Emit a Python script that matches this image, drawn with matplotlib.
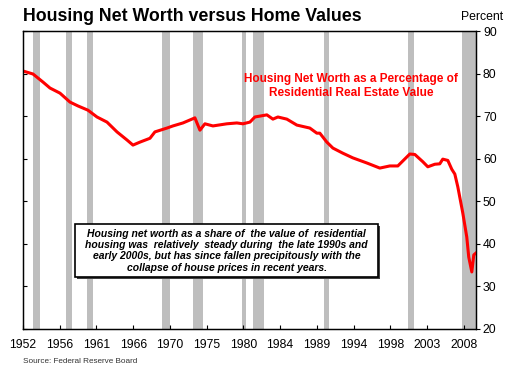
import matplotlib
matplotlib.use("Agg")
import matplotlib.pyplot as plt
from matplotlib.patches import Rectangle

plt.rcParams['font.family'] = ['Liberation Sans', 'DejaVu Sans']

# housing net worth as % of residential real estate value
years = [1952.00, 1953.27, 1954.54, 1955.43, 1956.70, 1957.97, 1958.98, 1960.25,
         1961.40, 1962.67, 1963.94, 1965.21, 1965.97, 1966.86, 1968.13, 1968.76,
         1970.29, 1971.05, 1972.32, 1973.46, 1973.84, 1974.48, 1975.11, 1976.13,
         1977.90, 1979.17, 1979.94, 1980.83, 1981.46, 1982.98, 1983.75, 1984.38,
         1985.52, 1986.79, 1988.44, 1989.33, 1989.71, 1990.60, 1991.37, 1992.63,
         1993.90, 1995.68, 1997.33, 1998.60, 1999.62, 2001.14, 2001.78, 2002.79,
         2003.43, 2004.32, 2004.95, 2005.33, 2005.97, 2006.48, 2006.86, 2007.24,
         2007.87, 2008.38, 2008.63, 2009.02, 2009.27, 2009.52]
net_worth = [80.6, 79.9, 78.0, 76.6, 75.4, 73.3, 72.4, 71.4,
             69.8, 68.6, 66.3, 64.4, 63.2, 63.9, 64.8, 66.3,
             67.2, 67.7, 68.4, 69.3, 69.6, 66.7, 68.2, 67.7,
             68.2, 68.4, 68.2, 68.6, 69.8, 70.3, 69.3, 69.8,
             69.3, 67.9, 67.2, 66.0, 66.0, 63.9, 62.5, 61.3,
             60.2, 59.0, 57.8, 58.3, 58.3, 61.1, 61.0, 59.3,
             58.1, 58.7, 58.8, 59.9, 59.6, 57.5, 56.4, 53.4,
             47.3, 41.6, 36.9, 33.4, 37.4, 37.8]

# recession periods (start, end)
recessions = [(1953.3, 1954.2), (1957.45, 1958.2), (1960.1, 1960.9),
              (1969.65, 1970.65), (1973.6, 1974.85), (1979.8, 1980.3),
              (1981.2, 1982.6), (1990.2, 1990.9), (2000.9, 2001.65),
              (2007.75, 2009.6)]

tick_pos = [1952 + k * 56 / 12 for k in range(13)]
tick_labels = ['1952', '1956', '1961', '1966', '1970', '1975', '1980',
               '1984', '1989', '1994', '1998', '2003', '2008']
y_ticks = [20, 30, 40, 50, 60, 70, 80, 90]

fig = plt.figure(figsize=(5.1, 3.66), dpi=100)
ax = fig.add_axes([0.0451, 0.1011, 0.8882, 0.8142])

for s, e in recessions:
    ax.axvspan(s, e, color='#BEBEBE', lw=0, zorder=1)

ax.plot(years, net_worth, color='#FF0000', lw=2.2, zorder=3,
        solid_joinstyle='round')

ax.set_xlim(1952, 2009.55)
ax.set_ylim(20, 90)
ax.set_xticks(tick_pos)
ax.set_xticklabels(tick_labels, fontsize=8.8)
ax.set_yticks(y_ticks)
ax.tick_params(axis='x', direction='in', length=3, width=0.8, pad=7)
ax.tick_params(axis='y', direction='in', length=3, width=0.8,
               labelleft=False)

ax2 = ax.twinx()
ax2.set_ylim(20, 90)
ax2.set_yticks(y_ticks)
ax2.tick_params(axis='y', direction='out', length=3, width=0.8,
                labelsize=8.8, pad=2)

for a in (ax, ax2):
    for sp in a.spines.values():
        sp.set_linewidth(0.9)
        sp.set_color('black')

ax.text(0.724, 0.815, 'Housing Net Worth as a Percentage of\nResidential Real Estate Value',
        transform=ax.transAxes, ha='center', va='center', color='#FF0000',
        fontsize=8.5, fontweight='bold', linespacing=1.15, zorder=5)

# note box with drop shadow
bx, by, bw, bh = 0.1148, 0.1745, 0.6689, 0.1775
ax.add_patch(Rectangle((bx + 0.005, by - 0.008), bw, bh, transform=ax.transAxes,
                       facecolor='#404040', edgecolor='none', zorder=6))
ax.add_patch(Rectangle((bx, by), bw, bh, transform=ax.transAxes,
                       facecolor='white', edgecolor='black', lw=1.2, zorder=7))
note = ('Housing net worth as a share of  the value of  residential\n'
        'housing was  relatively  steady during  the late 1990s and\n'
        'early 2000s, but has since fallen precipitously with the\n'
        'collapse of house prices in recent years.')
ax.text(bx + bw / 2, by + bh / 2, note, transform=ax.transAxes,
        ha='center', va='center', fontsize=7.5, fontweight='bold',
        fontstyle='italic', linespacing=1.17, zorder=8)

fig.text(0.045, 0.943, 'Housing Net Worth versus Home Values', fontsize=12.8,
         fontweight='bold', va='baseline', ha='left')
fig.text(0.987, 0.953, 'Percent', fontsize=8.8, ha='right', va='center')
fig.text(0.045, 0.013, 'Source: Federal Reserve Board', fontsize=5.9,
         color='#333333', ha='left', va='center')

fig.savefig('out.png', dpi=100)
